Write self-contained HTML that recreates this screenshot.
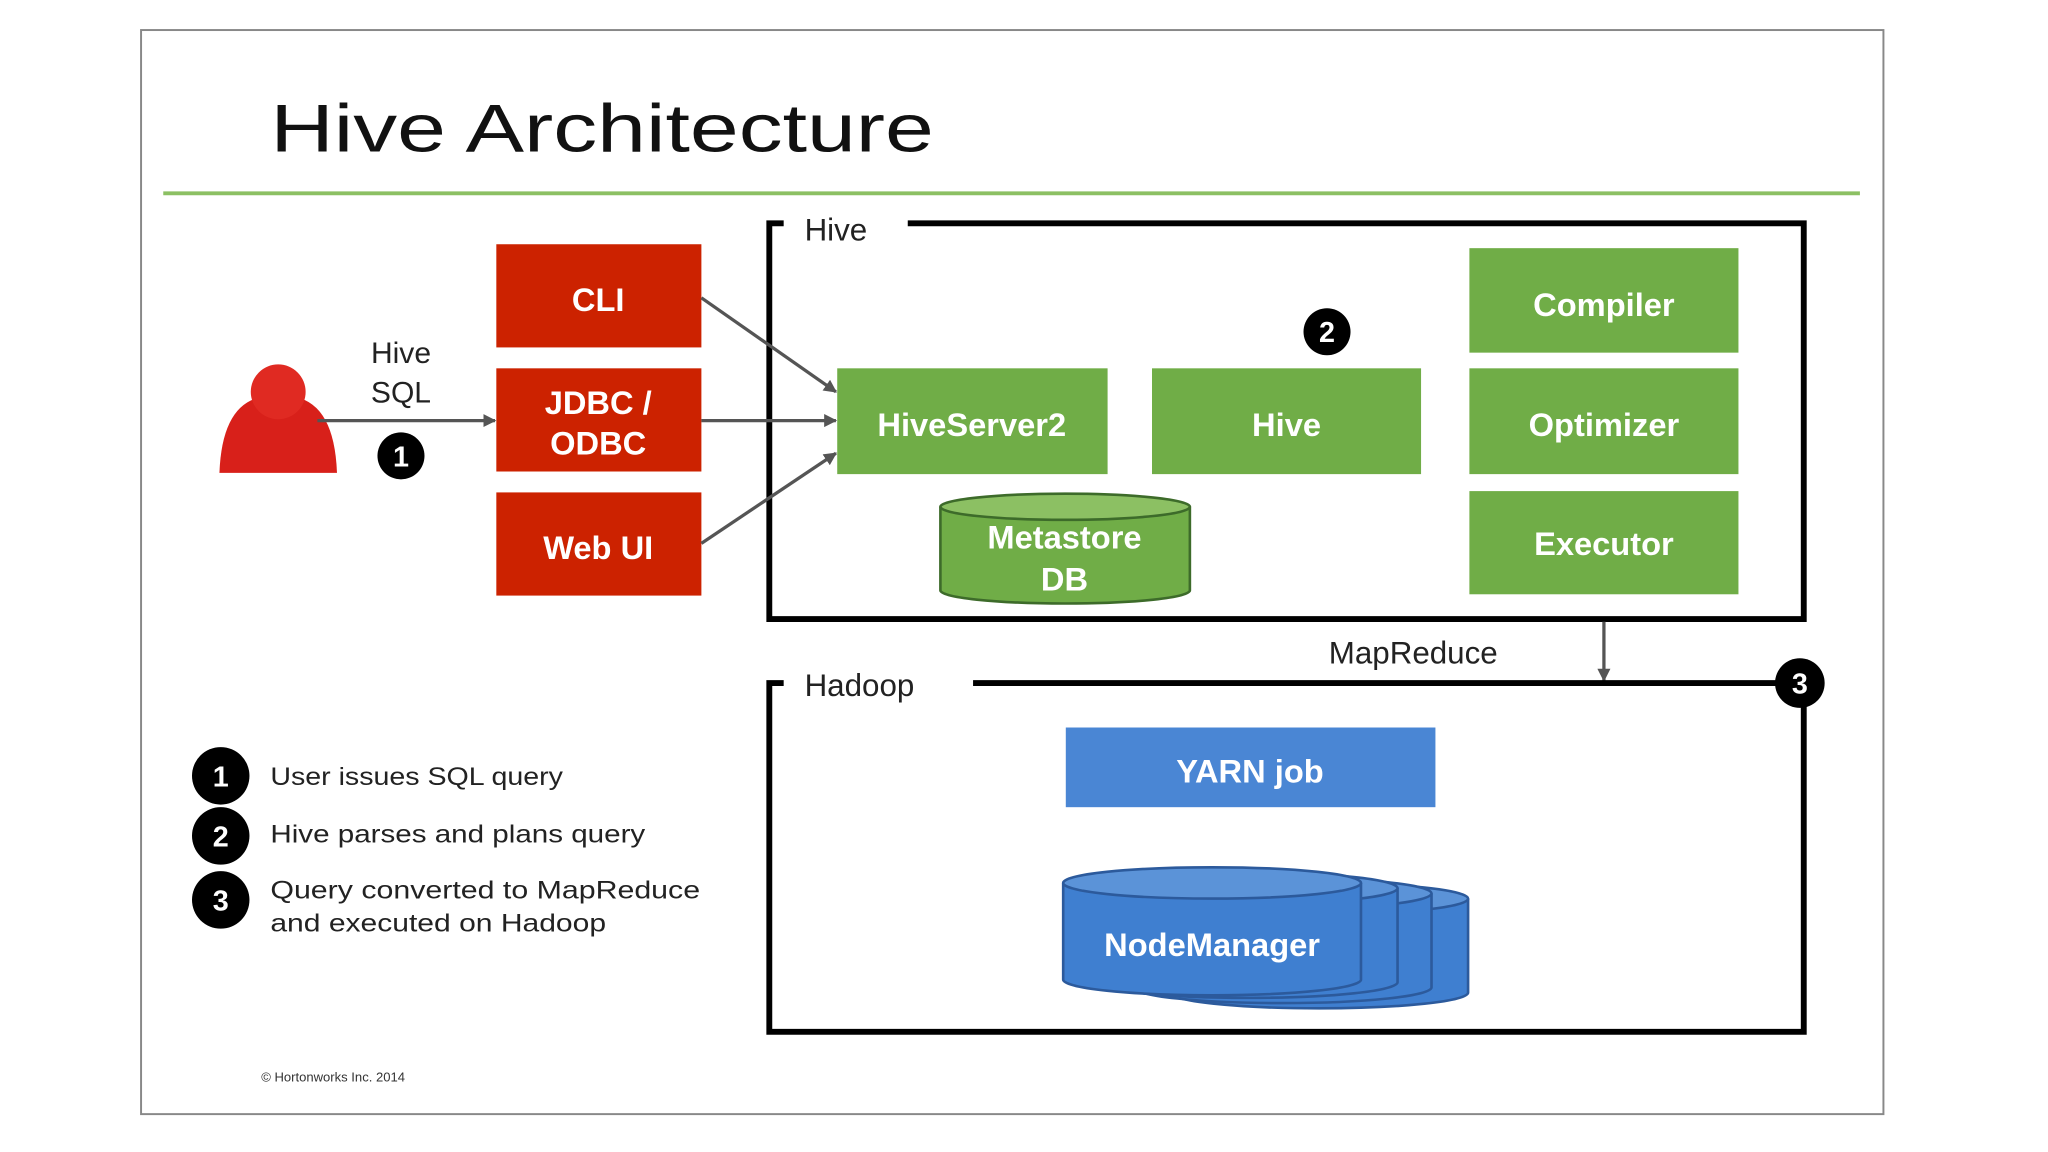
<!DOCTYPE html>
<html><head><meta charset="utf-8"><style>html,body{margin:0;padding:0;background:#fff}svg{display:block}</style></head>
<body>
<svg width="2048" height="1152" viewBox="0 0 1568 882" preserveAspectRatio="none" xmlns="http://www.w3.org/2000/svg" font-family="Liberation Sans, sans-serif">
<defs><marker id="a" markerUnits="userSpaceOnUse" markerWidth="10" markerHeight="10" refX="9" refY="5" orient="auto"><path d="M0,0 L10,5 L0,10 z" fill="#555"/></marker></defs>
<rect x="108" y="23" width="1334" height="830" fill="#fff" stroke="#888" stroke-width="1.5"/>
<text x="207" y="116" font-size="52" fill="#111" textLength="508" lengthAdjust="spacingAndGlyphs">Hive Architecture</text>
<line x1="125" y1="148" x2="1424" y2="148" stroke="#8cc063" stroke-width="3"/>
<path d="M600,171 L589,171 L589,474 L1381,474 L1381,171 L695,171" fill="none" stroke="#000" stroke-width="4.5"/>
<text x="616" y="184" font-size="24" fill="#222">Hive</text>
<g fill="#cc2200"><rect x="380" y="187" width="157" height="79"/><rect x="380" y="282" width="157" height="79"/><rect x="380" y="377" width="157" height="79"/></g>
<g fill="#fff" font-size="25" font-weight="bold" text-anchor="middle">
<text x="458" y="238">CLI</text><text x="458" y="317">JDBC /</text><text x="458" y="348">ODBC</text><text x="458" y="428">Web UI</text></g>
<path d="M168,362 Q170,310 200,304 L226,304 Q256,310 258,362 Z" fill="#d8201a"/>
<circle cx="213" cy="300" r="21" fill="#e02a22"/>
<text x="307" y="278" font-size="23" text-anchor="middle" fill="#222">Hive</text>
<text x="307" y="308" font-size="23" text-anchor="middle" fill="#222">SQL</text>
<line x1="243" y1="322" x2="379" y2="322" stroke="#555" stroke-width="2.5" marker-end="url(#a)"/>
<g stroke="#555" stroke-width="2.5" marker-end="url(#a)">
<line x1="537" y1="228" x2="640" y2="300"/><line x1="537" y1="322" x2="640" y2="322"/><line x1="537" y1="416" x2="640" y2="347"/></g>
<g fill="#70ad47"><rect x="641" y="282" width="207" height="81"/><rect x="882" y="282" width="206" height="81"/><rect x="1125" y="190" width="206" height="80"/><rect x="1125" y="282" width="206" height="81"/><rect x="1125" y="376" width="206" height="79"/></g>
<path d="M720,388 L720,452 A95,10 0 0 0 911,452 L911,388" fill="#70ad47" stroke="#3d6b2a" stroke-width="2"/>
<ellipse cx="815.5" cy="388" rx="95.5" ry="10" fill="#8cc063" stroke="#3d6b2a" stroke-width="2"/>
<g fill="#fff" font-size="25" font-weight="bold" text-anchor="middle">
<text x="744" y="334">HiveServer2</text><text x="985" y="334">Hive</text><text x="1228" y="242">Compiler</text><text x="1228" y="334">Optimizer</text><text x="1228" y="425">Executor</text>
<text x="815" y="420">Metastore</text><text x="815" y="452">DB</text></g>
<text x="1082" y="508" font-size="24" text-anchor="middle" fill="#222">MapReduce</text>
<line x1="1228" y1="476" x2="1228" y2="521" stroke="#555" stroke-width="2.5" marker-end="url(#a)"/>
<path d="M600,523 L589,523 L589,790 L1381,790 L1381,523 L745,523" fill="none" stroke="#000" stroke-width="4.5"/>
<text x="616" y="533" font-size="24" fill="#222">Hadoop</text>
<rect x="816" y="557" width="283" height="61" fill="#4a86d4"/>
<text x="957" y="599" font-size="25" font-weight="bold" fill="#fff" text-anchor="middle">YARN job</text>
<g stroke="#2c5a9c" stroke-width="2" fill="#3f7fd0">
<path d="M896,688 L896,760 A114,12 0 0 0 1124,760 L1124,688"/><ellipse cx="1010" cy="688" rx="114" ry="12" fill="#5b93d8"/>
<path d="M868,684 L868,756 A114,12 0 0 0 1096,756 L1096,684"/><ellipse cx="982" cy="684" rx="114" ry="12" fill="#5b93d8"/>
<path d="M842,680 L842,752 A114,12 0 0 0 1070,752 L1070,680"/><ellipse cx="956" cy="680" rx="114" ry="12" fill="#5b93d8"/>
<path d="M814,676 L814,750 A114,12 0 0 0 1042,750 L1042,676"/><ellipse cx="928" cy="676" rx="114" ry="12" fill="#5b93d8"/></g>
<text x="928" y="732" font-size="25" font-weight="bold" fill="#fff" text-anchor="middle">NodeManager</text>
<g fill="#000"><circle cx="307" cy="349" r="18"/><circle cx="1016" cy="254" r="18"/><circle cx="1378" cy="523" r="19"/><circle cx="169" cy="594" r="22"/><circle cx="169" cy="640" r="22"/><circle cx="169" cy="689" r="22"/></g>
<g fill="#fff" font-size="22" font-weight="bold" text-anchor="middle">
<text x="307" y="357">1</text><text x="1016" y="262">2</text><text x="1378" y="531">3</text><text x="169" y="602">1</text><text x="169" y="648">2</text><text x="169" y="697">3</text></g>
<g font-size="19" fill="#222"><text x="207" y="601" textLength="224" lengthAdjust="spacingAndGlyphs">User issues SQL query</text><text x="207" y="645" textLength="287" lengthAdjust="spacingAndGlyphs">Hive parses and plans query</text><text x="207" y="688" textLength="329" lengthAdjust="spacingAndGlyphs">Query converted to MapReduce</text><text x="207" y="713" textLength="257" lengthAdjust="spacingAndGlyphs">and executed on Hadoop</text></g>
<text x="200" y="828" font-size="10" fill="#333">© Hortonworks Inc. 2014</text>
</svg>
</body></html>
